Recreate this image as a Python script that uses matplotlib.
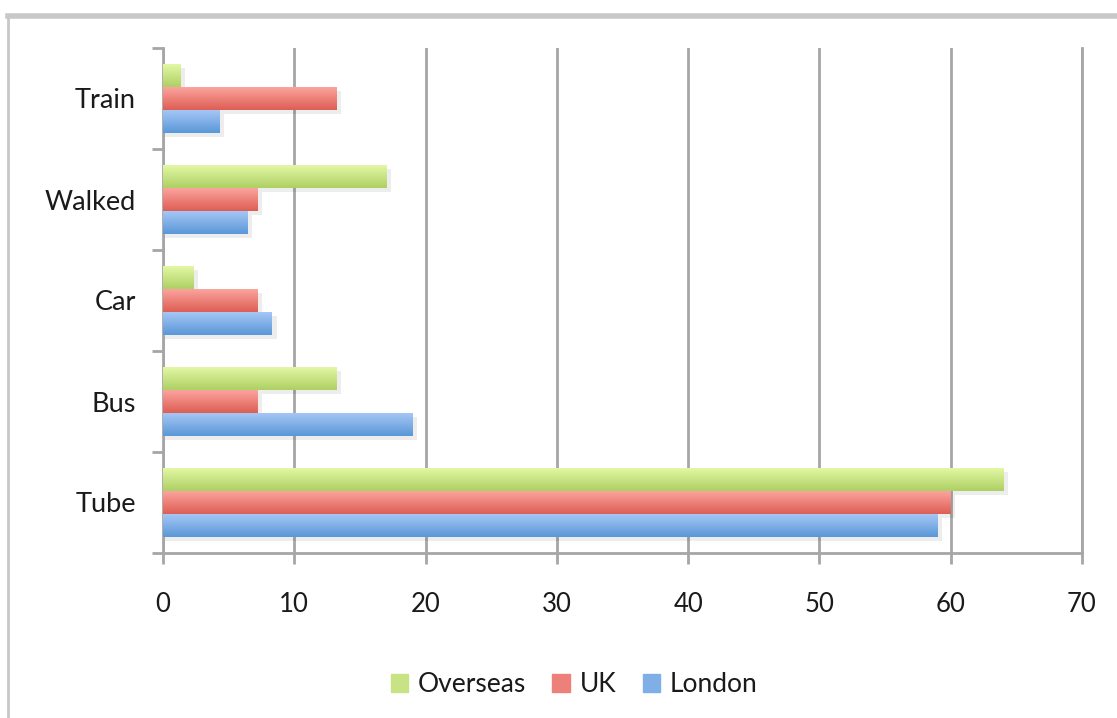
import numpy as np
import matplotlib.pyplot as plt
from matplotlib.lines import Line2D
from matplotlib.colors import LinearSegmentedColormap, to_rgb

plt.rcParams['font.family'] = ['Lato', 'DejaVu Sans']

categories = ["Tube", "Bus", "Car", "Walked", "Train"]
london = [59, 19, 8.3, 6.4, 4.3]
uk = [60, 7.2, 7.2, 7.2, 13.2]
overseas = [64, 13.2, 2.3, 17, 1.3]

series = [
    ("London", london, "#a4c6f5", "#5b98d8"),
    ("UK", uk, "#fba39d", "#de5f55"),
    ("Overseas", overseas, "#e2f7a4", "#aed064"),
]

fig = plt.figure(figsize=(11.17, 7.18), dpi=100)
ax = fig.add_axes([163 / 1117, 1 - 553 / 718, (1082 - 163) / 1117, (553 - 48) / 718])

y = np.arange(len(categories))
h = 0.225
offsets = [-h, 0, h]

handles = []
for (name, vals, top, bot), off in zip(series, offsets):
    cmap = LinearSegmentedColormap.from_list(name, [bot, top])
    grad = np.linspace(0, 1, 32).reshape(-1, 1)
    bars = ax.barh(y + off, vals, height=h, color=bot, edgecolor="none", zorder=3)
    for b in bars:
        x0, y0 = b.get_x(), b.get_y()
        w, hh = b.get_width(), b.get_height()
        # soft shadow
        ax.add_patch(plt.Rectangle((x0, y0 - 0.04), w + 0.35, hh, color="#000000",
                                   alpha=0.07, lw=0, zorder=2))
        im = ax.imshow(grad, cmap=cmap, aspect="auto", origin="lower",
                       extent=(x0, x0 + w, y0, y0 + hh), zorder=4)
        im.set_clip_path(b)
    mid = (np.array(to_rgb(top)) + np.array(to_rgb(bot))) / 2
    handles.append(plt.Rectangle((0, 0), 1, 1, color=mid))

ax.set_xlim(0, 70)
ax.set_ylim(-0.5, len(categories) - 0.5)
ax.set_xticks(np.arange(0, 71, 10))
ax.set_yticks(y)
ax.set_yticklabels(categories)
ax.set_yticks(np.arange(-0.5, len(categories), 1), minor=True)

ax.grid(axis="x", color="#a6a6a6", linewidth=2, zorder=0)
ax.axvline(70, color="#a6a6a6", linewidth=2, zorder=0, clip_on=False)
ax.set_axisbelow(True)
for s in ["top", "right"]:
    ax.spines[s].set_visible(False)
ax.spines["left"].set_color("#a6a6a6")
ax.spines["left"].set_linewidth(2)
ax.spines["bottom"].set_color("#a6a6a6")
ax.spines["bottom"].set_linewidth(2)

ax.tick_params(axis="y", which="major", length=0, pad=19.5, labelsize=19.5, labelcolor="#1a1a1a")
ax.tick_params(axis="y", which="minor", length=8, width=2, color="#a6a6a6")
ax.tick_params(axis="x", which="major", length=8, width=2, color="#a6a6a6",
               pad=20, labelsize=18.5, labelcolor="#1a1a1a")

leg = fig.legend(handles[::-1], ["Overseas", "UK", "London"], loc="center",
                 bbox_to_anchor=(574 / 1117, 1 - 685 / 718), ncol=3, frameon=False,
                 fontsize=19, handlelength=0.68, handleheight=0.68, handletextpad=0.35,
                 columnspacing=1.0, labelcolor="#1a1a1a")

# outer chart border (partly cropped)
fig.add_artist(Line2D([8 / 1117, 1], [1 - 16 / 718, 1 - 16 / 718], color="#c8c8c8", lw=4))
fig.add_artist(Line2D([8 / 1117, 8 / 1117], [0, 1 - 16 / 718], color="#c8c8c8", lw=2))

fig.savefig("out.png", dpi=100)
